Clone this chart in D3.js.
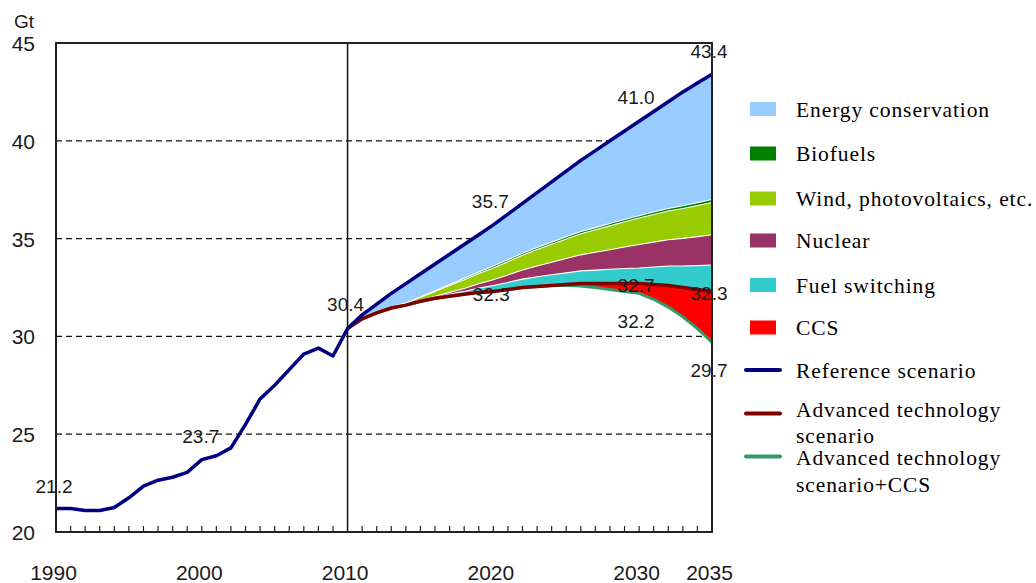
<!DOCTYPE html>
<html>
<head>
<meta charset="utf-8">
<script src="https://cdn.jsdelivr.net/npm/d3@7"></script>
<style>
  html, body { margin: 0; padding: 0; background: #fff; }
  svg { display: block; }
  .ax text { font-family: "Liberation Sans", Arial, sans-serif; font-size: 21px; fill: #1a1a1a; }
  .lab { font-family: "Liberation Sans", Arial, sans-serif; font-size: 19px; fill: #1a1a1a; text-anchor: middle; }
  .leg text { font-family: "Liberation Serif", "Times New Roman", serif; font-size: 21.5px; letter-spacing: 0.9px; fill: #000; }
</style>
</head>
<body>
<svg id="chart" width="1036" height="583"></svg>
<script>
// ---- Historical CO2 emissions (Gt) ----
const histYears = [1990, 1991, 1992, 1993, 1994, 1995, 1996, 1997, 1998, 1999, 2000,
                   2001, 2002, 2003, 2004, 2005, 2006, 2007, 2008, 2009, 2010];
const histEmissions = [21.2, 21.2, 21.1, 21.1, 21.25, 21.75, 22.35, 22.65, 22.8, 23.05, 23.7,
                       23.9, 24.3, 25.5, 26.8, 27.5, 28.3, 29.1, 29.4, 29.0, 30.4];

// ---- Outlook 2010-2035 ----
const projYears = [2010, 2011, 2012, 2013, 2014, 2015, 2016, 2017, 2018, 2019, 2020, 2021, 2022,
                   2023, 2024, 2025, 2026, 2027, 2028, 2029, 2030, 2031, 2032, 2033, 2034, 2035];
const referenceScenario = [30.4, 31.1, 31.65, 32.2, 32.7, 33.2, 33.7, 34.2, 34.7, 35.2, 35.7, 36.25, 36.8,
                           37.35, 37.9, 38.45, 39.0, 39.5, 40.0, 40.5, 41.0, 41.5, 42.0, 42.5, 42.95, 43.4];
const advancedScenario = [30.4, 30.9, 31.2, 31.45, 31.6, 31.8, 31.95, 32.05, 32.15, 32.25, 32.3, 32.4, 32.5,
                          32.55, 32.6, 32.65, 32.7, 32.7, 32.7, 32.7, 32.7, 32.65, 32.6, 32.5, 32.4, 32.3];
const advancedCcsScenario = [30.4, 30.9, 31.2, 31.45, 31.6, 31.8, 31.95, 32.05, 32.15, 32.25, 32.3, 32.4, 32.5,
                             32.55, 32.6, 32.62, 32.58, 32.5, 32.4, 32.3, 32.2, 31.9, 31.5, 31.0, 30.4, 29.7];

// Reductions stacked on top of the advanced technology scenario (Gt)
const fuelSwitching = [0, 0, 0, 0, 0, 0.02, 0.05, 0.1, 0.15, 0.22, 0.3, 0.36, 0.43,
                       0.5, 0.55, 0.6, 0.65, 0.69, 0.73, 0.77, 0.8, 0.9, 1.0, 1.1, 1.22, 1.35];
const nuclear = [0, 0, 0, 0, 0, 0.02, 0.05, 0.1, 0.15, 0.22, 0.3, 0.38, 0.46,
                 0.55, 0.64, 0.73, 0.82, 0.91, 1.0, 1.1, 1.2, 1.27, 1.34, 1.41, 1.48, 1.55];
const windPv = [0, 0, 0.02, 0.05, 0.1, 0.16, 0.25, 0.35, 0.45, 0.52, 0.6, 0.68, 0.76,
                0.84, 0.92, 1.0, 1.08, 1.15, 1.22, 1.29, 1.35, 1.41, 1.47, 1.53, 1.59, 1.65];
const biofuels = [0, 0, 0, 0, 0, 0.01, 0.03, 0.05, 0.07, 0.08, 0.1, 0.1, 0.1,
                  0.1, 0.11, 0.11, 0.11, 0.11, 0.12, 0.12, 0.12, 0.13, 0.13, 0.14, 0.14, 0.15];
const conservation = [0, 0.2, 0.43, 0.7, 1.0, 1.19, 1.37, 1.55, 1.73, 1.91, 2.1, 2.33, 2.55,
                      2.81, 3.08, 3.36, 3.64, 3.94, 4.23, 4.52, 4.83, 5.14, 5.46, 5.82, 6.12, 6.4];

// ---- Axes ----
const yTicks = [20, 25, 30, 35, 40, 45];
const gridValues = [25, 30, 35, 40];
const xTickLabels = [1990, 2000, 2010, 2020, 2030, 2035];
const minorYears = [1991, 1992, 1993, 1994, 1995, 1996, 1997, 1998, 1999, 2000, 2001, 2002, 2003, 2004,
                    2005, 2006, 2007, 2008, 2009, 2011, 2012, 2013, 2014, 2015, 2016, 2017, 2018, 2019,
                    2020, 2021, 2022, 2023, 2024, 2025, 2026, 2027, 2028, 2029, 2030, 2031, 2032, 2033, 2034];

// ---- Value labels: series, year and text offset ----
const valueLabels = [
  { series: "hist", year: 1990, dy: -16, dx: -2 },
  { series: "hist", year: 2000, dy: -17, dx: -1 },
  { series: "ref", year: 2010, dy: -18, dx: -2 },
  { series: "ref", year: 2020, dy: -17, dx: -3 },
  { series: "ref", year: 2030, dy: -17, dx: -3 },
  { series: "ref", year: 2035, dy: -16, dx: -3 },
  { series: "adv", year: 2020, dy: 10, dx: -2 },
  { series: "adv", year: 2030, dy: 8, dx: -3 },
  { series: "adv", year: 2035, dy: 9, dx: -3 },
  { series: "ccs", year: 2030, dy: 35, dx: -3 },
  { series: "ccs", year: 2035, dy: 35, dx: -3 }
];

const legendAreas = [
  { name: "Energy conservation", color: "#99ccff" },
  { name: "Biofuels", color: "#008000" },
  { name: "Wind, photovoltaics, etc.", color: "#99cc00" },
  { name: "Nuclear", color: "#993366" },
  { name: "Fuel switching", color: "#33cccc" },
  { name: "CCS", color: "#ff0000" }
];
const legendLines = [
  { name: ["Reference scenario"], color: "#000080" },
  { name: ["Advanced technology", "scenario"], color: "#800000" },
  { name: ["Advanced technology", "scenario+CCS"], color: "#339966" }
];

const svg = d3.select("#chart");
const x = d3.scaleLinear().domain([1990, 2035]).range([56, 712]);
const y = d3.scaleLinear().domain([20, 45]).range([532, 43]);

// dashed grid
svg.append("g").selectAll("line").data(gridValues).join("line")
  .attr("x1", x(1990)).attr("x2", x(2035))
  .attr("y1", d => y(d)).attr("y2", d => y(d))
  .attr("stroke", "#111").attr("stroke-width", 1.2).attr("stroke-dasharray", "6,4");

// stacked reductions
const rows = projYears.map((yr, i) => ({
  year: yr, base: advancedScenario[i],
  fuel: fuelSwitching[i], nuc: nuclear[i], wind: windPv[i], bio: biofuels[i], cons: conservation[i]
}));
const keys = ["fuel", "nuc", "wind", "bio", "cons"];
const keyColor = { fuel: "#33cccc", nuc: "#993366", wind: "#99cc00", bio: "#008000", cons: "#99ccff" };
const stacked = d3.stack().keys(keys)(rows);

const area = d3.area()
  .x(d => x(d.data.year))
  .y0(d => y(d.data.base + d[0]))
  .y1(d => y(d.data.base + d[1]));
const topEdge = d3.line()
  .x(d => x(d.data.year))
  .y(d => y(d.data.base + d[1]));

const gA = svg.append("g");
gA.selectAll("path.layer").data(stacked).join("path")
  .attr("class", "layer")
  .attr("d", area)
  .attr("fill", s => keyColor[s.key]);
// white separators between layers
gA.selectAll("path.sep").data(stacked.filter(s => s.key !== "cons")).join("path")
  .attr("class", "sep")
  .attr("d", s => topEdge(s))
  .attr("fill", "none").attr("stroke", "#fff").attr("stroke-width", 1.1);

// CCS wedge between the two advanced scenarios
const ccsRows = projYears.map((yr, i) => ({ year: yr, hi: advancedScenario[i], lo: advancedCcsScenario[i] }));
svg.append("path")
  .attr("d", d3.area().x(d => x(d.year)).y0(d => y(d.lo)).y1(d => y(d.hi))(ccsRows))
  .attr("fill", "#ff0000");

const line = d3.line().x(d => x(d[0])).y(d => y(d[1]));
const zip = (a, b) => a.map((v, i) => [v, b[i]]);

svg.append("path").attr("d", line(zip(projYears, advancedCcsScenario)))
  .attr("fill", "none").attr("stroke", "#339966").attr("stroke-width", 3);
svg.append("path").attr("d", line(zip(projYears, advancedScenario)))
  .attr("fill", "none").attr("stroke", "#800000").attr("stroke-width", 3.5);

// vertical divider at 2010
svg.append("line")
  .attr("x1", x(2010)).attr("x2", x(2010)).attr("y1", y(45)).attr("y2", y(20))
  .attr("stroke", "#111").attr("stroke-width", 1.5);

// reference scenario (history + outlook)
const refSeries = zip(histYears, histEmissions).concat(zip(projYears.slice(1), referenceScenario.slice(1)));
svg.append("path").attr("d", line(refSeries))
  .attr("fill", "none").attr("stroke", "#000080").attr("stroke-width", 3.5)
  .attr("stroke-linejoin", "round");

// frame
svg.append("path")
  .attr("d", `M${x(1990)},${y(20)}V${y(45)}H${x(2035)}V${y(20)}Z`)
  .attr("fill", "none").attr("stroke", "#222").attr("stroke-width", 2);

// minor year ticks inside the bottom axis
svg.append("g").selectAll("line").data(minorYears).join("line")
  .attr("x1", d => x(d)).attr("x2", d => x(d))
  .attr("y1", y(20)).attr("y2", y(20) - 6)
  .attr("stroke", "#222").attr("stroke-width", 1.2);

// axis labels
const yAxis = d3.axisLeft(y).tickValues(yTicks).tickSize(0).tickPadding(21).tickFormat(d3.format("d"));
const gy = svg.append("g").attr("class", "ax").attr("transform", `translate(${x(1990)},0)`).call(yAxis);
gy.select(".domain").remove();
gy.selectAll("text").attr("dy", "0.36em");

const xAxis = d3.axisBottom(x).tickValues(xTickLabels).tickSize(0).tickPadding(0).tickFormat(d3.format("d"));
const gx = svg.append("g").attr("class", "ax").attr("transform", `translate(0,${y(20)})`).call(xAxis);
gx.select(".domain").remove();
gx.selectAll("text").attr("y", 48).attr("dy", 0).attr("dx", -3);

svg.append("text")
  .attr("x", 14).attr("y", 28)
  .style("font-family", "Liberation Sans, Arial, sans-serif").style("font-size", "19px").style("fill", "#1a1a1a")
  .text("Gt");

// value labels
const seriesLookup = {
  hist: [histYears, histEmissions],
  ref: [projYears, referenceScenario],
  adv: [projYears, advancedScenario],
  ccs: [projYears, advancedCcsScenario]
};
svg.append("g").selectAll("text").data(valueLabels).join("text")
  .attr("class", "lab")
  .each(function (d) {
    const [yrs, vals] = seriesLookup[d.series];
    const v = vals[yrs.indexOf(d.year)];
    d3.select(this)
      .attr("x", x(d.year) + d.dx)
      .attr("y", y(v) + d.dy)
      .text(v.toFixed(1));
  });

// legend
const leg = svg.append("g").attr("class", "leg");
const areaRowY = [109, 153.5, 198.5, 240.5, 285, 327.5];
legendAreas.forEach((d, i) => {
  leg.append("rect").attr("x", 750).attr("y", areaRowY[i] - 7).attr("width", 26).attr("height", 14)
    .attr("fill", d.color);
  leg.append("text").attr("x", 796).attr("y", areaRowY[i] + 7.5).text(d.name);
});
const lineRowY = [370, 413.5, 456.5];
const lineTextY = [[378], [417, 443], [465, 492]];
legendLines.forEach((d, i) => {
  leg.append("line").attr("x1", 746).attr("x2", 780).attr("y1", lineRowY[i]).attr("y2", lineRowY[i])
    .attr("stroke", d.color).attr("stroke-width", 4).attr("stroke-linecap", "round");
  d.name.forEach((t, j) => {
    leg.append("text").attr("x", 796).attr("y", lineTextY[i][j]).text(t);
  });
});
</script>
</body>
</html>
